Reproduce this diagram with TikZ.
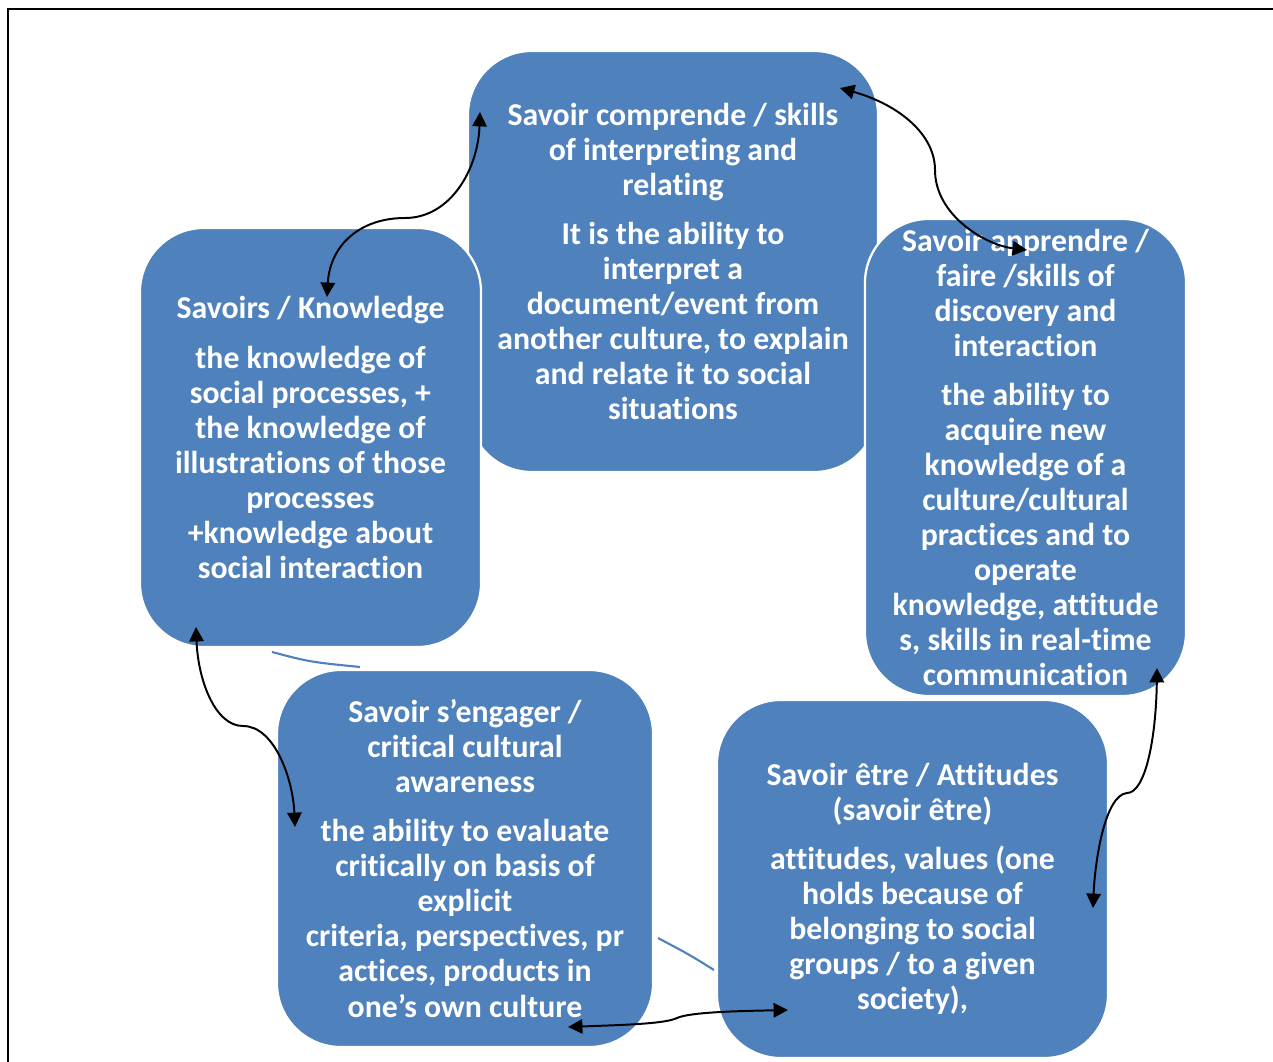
\documentclass[tikz,border=0pt]{standalone}
\usepackage{fontspec}
\setmainfont[Ligatures={NoCommon,NoContextual}]{Carlito}
\usetikzlibrary{arrows.meta}

\definecolor{boxblue}{HTML}{4F81BD}

\tikzset{
	box/.style={shape=rectangle, rounded corners=1.6cm, fill=boxblue, draw=white,
		line width=1.6pt, text=white, align=center, inner sep=0pt,
		font=\fontsize{22.6}{24.9}\selectfont\bfseries},
	link/.style={line width=1.4pt, {Triangle[length=3.6mm,width=3.6mm]}-{Triangle[length=3.6mm,width=3.6mm]}},
	stub/.style={line width=1.5pt, draw=boxblue}
}

\begin{document}
\begin{tikzpicture}[x=0.025cm, y=-0.025cm]
	
	\useasboundingbox (0,0) rectangle (1273,1062);
	\draw[line width=1.5pt] (8,1062) |- (1273,9);
	
	\node[box, minimum width=10.25cm, minimum height=10.525cm] (comprendre) at (673,261.5)
	{Savoir comprende / skills\\ of interpreting and\\ relating\\[0.35cm]
	 It is the ability to\\ interpret a\\ document/event from\\ another culture, to explain\\ and relate it to social\\ situations};
	\node[box, minimum width=8.525cm, minimum height=10.475cm] (savoirs) at (310.5,437.5)
	{Savoirs / Knowledge\\[0.35cm]
	 the knowledge of\\ social processes, +\\ the knowledge of\\ illustrations of those\\ processes\\ +knowledge about\\ social interaction};
	\node[box, minimum width=8.025cm, minimum height=11.925cm] (apprendre) at (1025.5,457.5)
	{Savoir apprendre /\\ faire /skills of\\ discovery and\\ interaction\\[0.35cm]
	 the ability to\\ acquire new\\ knowledge of a\\ culture/cultural\\ practices and to\\ operate\\ knowledge, attitude\\ s, skills in real-time\\ communication};
	\node[box, minimum width=9.4cm, minimum height=9.425cm] (engager) at (465,858.5)
	{Savoir s’engager /\\ critical cultural\\ awareness\\[0.35cm]
	 the ability to evaluate\\ critically on basis of\\ explicit\\ criteria, perspectives, pr\\ actices, products in\\ one’s own culture};
	\node[box, minimum width=9.775cm, minimum height=8.95cm] (etre) at (912.5,879)
	{\mbox{}\\[0.172cm]
	 Savoir être / Attitudes\\ (savoir être)\\[0.35cm]
	 attitudes, values (one\\ holds because of\\ belonging to social\\ groups / to a given\\ society),};
	
	% ends of the double arrows
	\coordinate (s1) at (327,297);
	\coordinate (c1) at (480,112);
	\coordinate (c2) at (840,88);
	\coordinate (a1) at (1027,250);
	\coordinate (a2) at (1157,668);
	\coordinate (e1) at (1093,908);
	\coordinate (e2) at (788,1010);
	\coordinate (g1) at (568,1027);
	\coordinate (g2) at (295,827);
	\coordinate (s2) at (196,627);
	
	\draw[link] (s1) .. controls (330,245) and (360,218) .. (405,218)
	                 .. controls (450,218) and (478,170) .. (c1);
	\draw[link] (c2) .. controls (900,105) and (935,135) .. (935,170)
	                 .. controls (935,215) and (985,245) .. (a1);
	\draw[link] (a2) .. controls (1156,740) and (1145,793) .. (1127,793)
	                 .. controls (1105,795) and (1095,860) .. (e1);
	\draw[link] (e2) .. controls (740,1011) and (690,1012) .. (677,1018)
	                 .. controls (665,1024) and (620,1025) .. (g1);
	\draw[link] (g2) .. controls (293,780) and (275,726) .. (243,726)
	                 .. controls (215,726) and (198,680) .. (s2);
	
	% leftover pieces of the cycle
	\coordinate (p1) at (272,652);
	\coordinate (p2) at (360,667);
	\coordinate (q1) at (658,938);
	\coordinate (q2) at (714,970);
	\draw[stub] (p1) .. controls (310,662) .. (p2);
	\draw[stub] (q1) .. controls (690,955) .. (q2);
	
\end{tikzpicture}
\end{document}
